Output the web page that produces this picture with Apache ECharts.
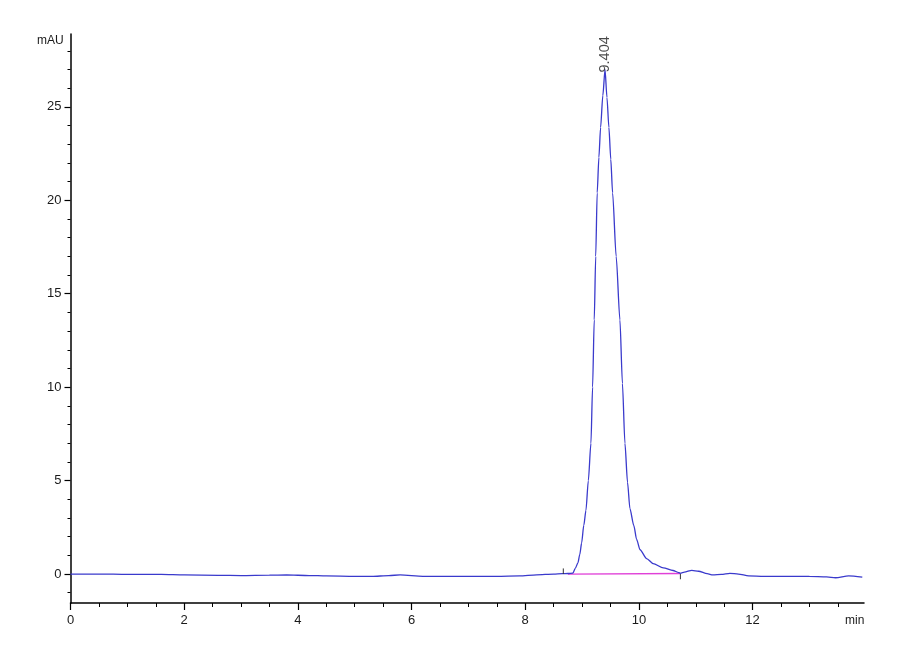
<!DOCTYPE html>
<html>
<head>
<meta charset="utf-8">
<script src="https://cdn.jsdelivr.net/npm/echarts@6/dist/echarts.min.js"></script>
<style>
html,body{margin:0;padding:0;background:#fff;}
#chart{width:900px;height:660px;}
</style>
</head>
<body>
<div id="chart"></div>
<script>
// ---- data ----
const timeMin = [
  0, 0.5, 1.0, 1.6, 2.0, 2.6, 3.0, 3.5, 3.8, 4.2, 4.5, 5.0, 5.3, 5.6, 5.8, 6.2, 6.6, 7.0, 7.5, 7.9, 8.2, 8.5, 8.65,
  8.75, 8.839, 8.88, 8.927, 8.96, 8.992, 9.03, 9.068, 9.11, 9.156, 9.185, 9.214, 9.24, 9.266, 9.296, 9.326, 9.365,
  9.404,
  9.438, 9.472, 9.505, 9.537, 9.60, 9.666, 9.71, 9.754, 9.80, 9.842, 9.91, 9.96, 10.02, 10.135, 10.25, 10.43,
  10.6, 10.7, 10.73, 10.8, 10.93, 11.05, 11.2, 11.3, 11.45, 11.6, 11.75, 11.93, 12.2, 12.5, 13.0, 13.3, 13.46,
  13.69, 13.93
];
const signalMAU = [
  0.0, 0.0, -0.02, -0.02, -0.05, -0.07, -0.08, -0.06, -0.05, -0.08, -0.1, -0.12, -0.13, -0.08, -0.05, -0.12, -0.12, -0.12, -0.12, -0.1, -0.04, 0.0, 0.02,
  0.03, 0.05, 0.3, 0.6, 1.05, 1.66, 2.6, 3.4, 5.0, 7.0, 10.0, 13.6, 17.0, 20.4, 22.3, 23.9, 25.6,
  27.0,
  25.5, 23.9, 22.2, 20.4, 17.0, 13.6, 10.2, 7.0, 4.9, 3.5, 2.6, 1.85, 1.3, 0.83, 0.56, 0.33,
  0.19, 0.08, 0.04, 0.1, 0.2, 0.15, 0.02, -0.05, -0.02, 0.04, 0.0, -0.1, -0.12, -0.12, -0.13, -0.15, -0.2,
  -0.1, -0.17
];
const baselineTime = [8.75, 10.73];
const baselineMAU = [0.0, 0.03];
const peakTime = 9.404;
const peakMAU = 27.0;
const peakLabel = '9.404';
const eventTickTime = [8.67, 10.73];
const eventTickFrom = [0.0, 0.0];
const eventTickTo = [0.3, -0.28];

const yTickLabels = [0, 5, 10, 15, 20, 25];
const yMinorTicks = [-1, 1, 2, 3, 4, 6, 7, 8, 9, 11, 12, 13, 14, 16, 17, 18, 19, 21, 22, 23, 24, 26, 27, 28];
const xTickLabels = [0, 2, 4, 6, 8, 10, 12];
const xMinorTicks = [0.5, 1, 1.5, 2.5, 3, 3.5, 4.5, 5, 5.5, 6.5, 7, 7.5, 8.5, 9, 9.5, 10.5, 11, 11.5, 12.5, 13, 13.5];
const yUnit = 'mAU';
const xUnit = 'min';

// ---- chart ----
const chart = echarts.init(document.getElementById('chart'));
const FONT = 'Liberation Sans';
const signal = timeMin.map((t, i) => [t, signalMAU[i]]);
const baseline = baselineTime.map((t, i) => [t, baselineMAU[i]]);

const Y_MIN = -1.55, Y_MAX = 28.9, X_MIN = 0, X_MAX = 13.96;

const tickSeries = eventTickTime.map((t, i) => ({
  type: 'line', xAxisIndex: 0, yAxisIndex: 0, silent: true, showSymbol: false,
  data: [[t, eventTickFrom[i]], [t, eventTickTo[i]]],
  lineStyle: { color: '#333', width: 1 }, z: 4
}));

chart.setOption({
  animation: false,
  backgroundColor: '#fff',
  grid: { left: 70.5, right: 36, top: 34, bottom: 57 },
  xAxis: [
    {
      type: 'value', min: X_MIN, max: X_MAX,
      axisLine: { show: true, onZero: false, lineStyle: { color: '#000', width: 1.5 } },
      axisTick: { show: true, customValues: xTickLabels, length: 7, lineStyle: { color: '#000', width: 1.2 } },
      axisLabel: { customValues: xTickLabels, color: '#1a1a1a', fontFamily: FONT, fontSize: 13, margin: 11 },
      splitLine: { show: false }
    },
    {
      type: 'value', min: X_MIN, max: X_MAX, position: 'bottom',
      axisLine: { show: false, onZero: false },
      axisTick: { show: true, customValues: xMinorTicks, length: 4, lineStyle: { color: '#000', width: 1 } },
      axisLabel: { show: false },
      splitLine: { show: false }
    }
  ],
  yAxis: [
    {
      type: 'value', min: Y_MIN, max: Y_MAX,
      axisLine: { show: true, onZero: false, lineStyle: { color: '#000', width: 1.5 } },
      axisTick: { show: true, customValues: yTickLabels, length: 6, lineStyle: { color: '#000', width: 1.2 } },
      axisLabel: { customValues: yTickLabels, color: '#1a1a1a', fontFamily: FONT, fontSize: 13, margin: 9 },
      splitLine: { show: false }
    },
    {
      type: 'value', min: Y_MIN, max: Y_MAX, position: 'left',
      axisLine: { show: false, onZero: false },
      axisTick: { show: true, customValues: yMinorTicks, length: 3, lineStyle: { color: '#000', width: 1 } },
      axisLabel: { show: false },
      splitLine: { show: false }
    }
  ],
  graphic: [
    { type: 'text', left: 37, top: 35, style: { text: yUnit, fill: '#1a1a1a', font: '12px "Liberation Sans"' } },
    { type: 'text', left: 845, top: 615, style: { text: xUnit, fill: '#1a1a1a', font: '12px "Liberation Sans"' } }
  ],
  series: [
    {
      type: 'line', xAxisIndex: 0, yAxisIndex: 0, data: baseline, showSymbol: false, silent: true,
      lineStyle: { color: '#e040d8', width: 1.3 }, z: 2
    },
    {
      type: 'line', xAxisIndex: 0, yAxisIndex: 0, data: signal, showSymbol: false, silent: true,
      smooth: 0.25, smoothMonotone: 'x',
      lineStyle: { color: '#3a3acc', width: 1.3 }, z: 3
    },
    ...tickSeries,
    {
      type: 'scatter', xAxisIndex: 0, yAxisIndex: 0, data: [[peakTime, peakMAU]], symbolSize: 0, silent: true,
      label: {
        show: true, formatter: peakLabel, rotate: 90, position: [0, 3],
        align: 'left', verticalAlign: 'middle',
        color: '#1a1a1a', fontFamily: FONT, fontSize: 14.5
      }, z: 5
    }
  ]
});
</script>
</body>
</html>
